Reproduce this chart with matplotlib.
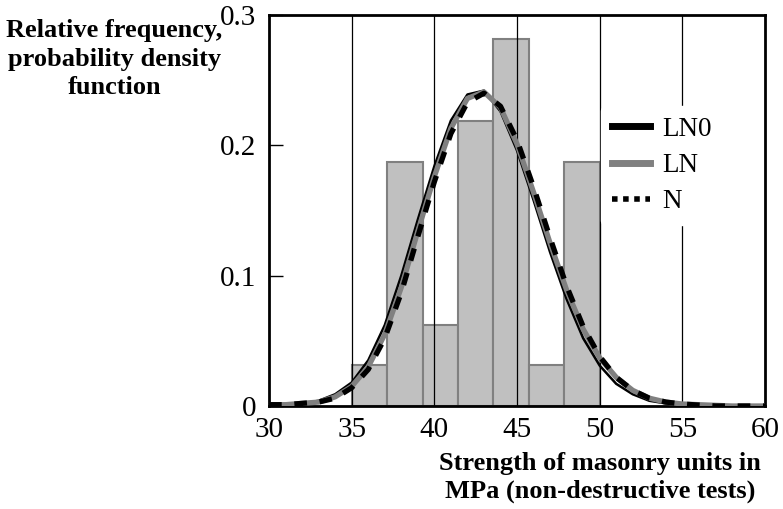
import matplotlib
matplotlib.use("Agg")
import matplotlib.pyplot as plt
from matplotlib.lines import Line2D

# histogram: 7 classes between 35 and 50 MPa, relative frequency (count / 32)
bin_edges = [35.0, 37.143, 39.286, 41.429, 43.571, 45.714, 47.857, 50.0]
rel_freq = [0.03125, 0.1875, 0.0625, 0.21875, 0.28125, 0.03125, 0.1875]

# fitted density curves at 1 MPa steps
x_pts = [30, 31, 32, 33, 34, 35, 36, 37, 38, 39, 40, 41, 42, 43, 44, 45,
         46, 47, 48, 49, 50, 51, 52, 53, 54, 55, 56, 57, 58, 59, 60]
pdf_n = [0.000, 0.001, 0.002, 0.004, 0.009, 0.018, 0.035, 0.062, 0.100, 0.143,
         0.184, 0.219, 0.239, 0.242, 0.226, 0.196, 0.158, 0.118, 0.082, 0.052,
         0.031, 0.017, 0.009, 0.004, 0.002, 0.001, 0.000, 0.000, 0.000, 0.000, 0.000]
pdf_ln = [0.001, 0.001, 0.002, 0.003, 0.007, 0.015, 0.030, 0.055, 0.091, 0.134,
          0.176, 0.213, 0.236, 0.241, 0.229, 0.201, 0.164, 0.125, 0.089, 0.059,
          0.037, 0.022, 0.012, 0.006, 0.003, 0.0015, 0.001, 0.0005, 0.000, 0.000, 0.000]
pdf_ln0 = [0.001, 0.001, 0.002, 0.003, 0.006, 0.014, 0.028, 0.052, 0.087, 0.130,
           0.172, 0.209, 0.233, 0.240, 0.230, 0.204, 0.168, 0.129, 0.092, 0.061,
           0.038, 0.022, 0.012, 0.006, 0.003, 0.0015, 0.0007, 0.000, 0.000, 0.000, 0.000]

x_ticks = [30, 35, 40, 45, 50, 55, 60]
y_ticks = [0, 0.1, 0.2, 0.3]
y_tick_labels = ["0", "0.1", "0.2", "0.3"]

plt.rcParams["font.family"] = ["Liberation Serif", "DejaVu Serif"]

fig = plt.figure(figsize=(7.83, 5.09), dpi=100)
ax = fig.add_axes([0.3436, 0.2024, 0.6334, 0.7681])

widths = [bin_edges[i + 1] - bin_edges[i] for i in range(len(rel_freq))]
ax.bar(bin_edges[:-1], rel_freq, width=widths, align="edge",
       color="#c0c0c0", edgecolor="#808080", linewidth=1.5, zorder=1)

for gx in [35, 40, 45, 50, 55]:
    ax.axvline(gx, color="black", linewidth=0.9, zorder=2)

ax.plot(x_pts, pdf_n, color="black", linewidth=1.8, zorder=3)
ax.plot(x_pts, pdf_ln, color="#808080", linewidth=3.8, zorder=4)
ax.plot(x_pts, pdf_ln0, color="black", linewidth=3.8, dashes=(2.4, 2.4), zorder=5)

ax.set_xlim(30, 60)
ax.set_ylim(0, 0.3)
ax.set_xticks(x_ticks)
ax.set_yticks(y_ticks)
ax.set_yticklabels(y_tick_labels)
ax.tick_params(axis="y", direction="in", length=10, width=1, labelsize=21, pad=9)
ax.tick_params(axis="x", length=0, labelsize=21, pad=8)
for s in ax.spines.values():
    s.set_linewidth(2)

handles = [Line2D([], [], color="black", linewidth=5),
           Line2D([], [], color="#808080", linewidth=5),
           Line2D([], [], color="black", linewidth=4, linestyle=(0, (1, 1)))]
leg = ax.legend(handles, ["LN0", "LN", "N"], loc="center left",
                bbox_to_anchor=(0.67, 0.615), frameon=True, fontsize=19.5,
                handlelength=1.4, handletextpad=0.45, labelspacing=0.42,
                borderpad=0.4, borderaxespad=0)
leg.get_frame().set_edgecolor("white")
leg.get_frame().set_facecolor("white")
leg.get_frame().set_alpha(1)
leg.set_zorder(6)

fig.text(0.146, 0.962, "Relative frequency,\nprobability density\nfunction",
         ha="center", va="top", fontsize=19, fontweight="bold", linespacing=1.3)
fig.text(0.766, 0.112, "Strength of masonry units in\nMPa (non-destructive tests)",
         ha="center", va="top", fontsize=19, fontweight="bold", linespacing=1.25)

fig.savefig("out.png", dpi=100)
plt.close(fig)
